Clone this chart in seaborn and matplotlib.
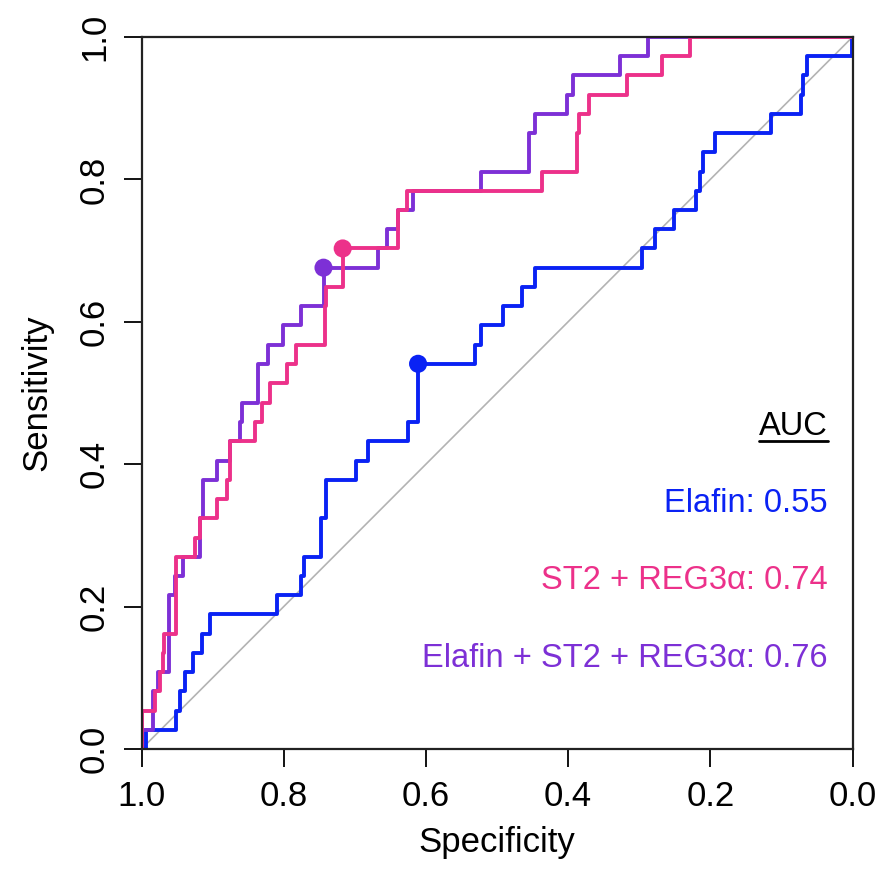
import matplotlib
matplotlib.use("Agg")
import matplotlib.pyplot as plt
import seaborn as sns
import pandas as pd

# ---- data (step vertices: specificity, sensitivity) ----
elafin_spec = [1.0, 0.994, 0.951, 0.946, 0.939, 0.927, 0.915, 0.904, 0.810, 0.775, 0.771,
               0.748, 0.740, 0.699, 0.681, 0.625, 0.611, 0.531, 0.522, 0.491, 0.465, 0.447,
               0.296, 0.278, 0.251, 0.220, 0.215, 0.210, 0.194, 0.114, 0.072, 0.069, 0.064,
               0.001, 0.0]
elafin_sens = [0.0, 0.027, 0.054, 0.081, 0.108, 0.135, 0.162, 0.189, 0.216, 0.243, 0.270,
               0.324, 0.378, 0.405, 0.432, 0.459, 0.541, 0.568, 0.595, 0.622, 0.649, 0.676,
               0.703, 0.730, 0.757, 0.784, 0.811, 0.838, 0.865, 0.892, 0.919, 0.946, 0.973,
               1.0, 1.0]

st2_spec = [1.0, 1.0, 0.981, 0.974, 0.970, 0.968, 0.951, 0.925, 0.918, 0.894, 0.880, 0.876,
            0.840, 0.831, 0.819, 0.796, 0.783, 0.742, 0.740, 0.717, 0.639, 0.627, 0.437,
            0.388, 0.384, 0.370, 0.317, 0.268, 0.229, 0.0]
st2_sens = [0.0, 0.054, 0.081, 0.108, 0.135, 0.162, 0.270, 0.297, 0.324, 0.351, 0.378, 0.432,
            0.459, 0.486, 0.514, 0.541, 0.568, 0.622, 0.649, 0.703, 0.757, 0.784, 0.811,
            0.865, 0.892, 0.919, 0.946, 0.973, 1.0, 1.0]

combo_spec = [1.0, 1.0, 0.984, 0.977, 0.961, 0.953, 0.941, 0.918, 0.913, 0.894, 0.876, 0.862,
              0.859, 0.836, 0.822, 0.801, 0.775, 0.744, 0.668, 0.655, 0.639, 0.618, 0.522,
              0.455, 0.447, 0.402, 0.393, 0.327, 0.287, 0.0]
combo_sens = [0.0, 0.027, 0.081, 0.108, 0.216, 0.243, 0.270, 0.324, 0.378, 0.405, 0.432, 0.459,
              0.486, 0.541, 0.568, 0.595, 0.622, 0.676, 0.703, 0.730, 0.757, 0.784, 0.811,
              0.865, 0.892, 0.919, 0.946, 0.973, 1.0, 1.0]

# best-threshold points
marker_spec = [0.611, 0.717, 0.744]
marker_sens = [0.541, 0.703, 0.676]

series_names = ["Elafin", "ST2 + REG3\u03b1", "Elafin + ST2 + REG3\u03b1"]
auc_values = ["0.55", "0.74", "0.76"]
colors = ["#0A22F4", "#EC318A", "#7D30D6"]

tick_values = [0.0, 0.2, 0.4, 0.6, 0.8, 1.0]
tick_labels = ["0.0", "0.2", "0.4", "0.6", "0.8", "1.0"]

# ---- style ----
sns.set_style("ticks")
plt.rcParams["font.family"] = ["Liberation Sans", "DejaVu Sans"]

fig = plt.figure(figsize=(8.85, 8.8), dpi=100)
W, H = 885, 880
ax = fig.add_axes([141.5 / W, 1 - 749 / H, 711 / W, 712 / H])

# chance diagonal
diag = pd.DataFrame({"spec": [1.0, 0.0], "sens": [0.0, 1.0]})
sns.lineplot(data=diag, x="spec", y="sens", ax=ax, color="#b3b3b3", linewidth=1.2,
             sort=False, estimator=None)

curves = [
    (elafin_spec, elafin_sens, colors[0]),
    (combo_spec, combo_sens, colors[2]),
    (st2_spec, st2_sens, colors[1]),
]
for sp, se, c in curves:
    df = pd.DataFrame({"spec": sp, "sens": se})
    sns.lineplot(data=df, x="spec", y="sens", ax=ax, color=c, linewidth=2.8,
                 sort=False, estimator=None, drawstyle="steps-post")

mk = pd.DataFrame({"spec": marker_spec, "sens": marker_sens, "name": series_names})
sns.scatterplot(data=mk, x="spec", y="sens", hue="name", palette=dict(zip(series_names, colors)),
                s=170, edgecolor="none", ax=ax, legend=False, zorder=5)

ax.set_xlim(1.0, 0.0)
ax.set_ylim(0.0, 1.0)
ax.set_xticks(tick_values)
ax.set_xticklabels(tick_labels)
ax.set_yticks(tick_values)
ax.set_yticklabels(tick_labels, rotation=90, va="center")
ax.tick_params(axis="both", direction="out", length=13, width=1.3, labelsize=25,
               color="black", labelcolor="black", pad=9)
for s in ax.spines.values():
    s.set_visible(True)
    s.set_color("#222222")
    s.set_linewidth(1.6)
ax.set_xlabel("Specificity", fontsize=25, labelpad=10, color="black")
ax.set_ylabel("Sensitivity", fontsize=25, labelpad=18, color="black")

# AUC annotation block
xr = (828 - 141.5) / 711
auc_txt = ax.text(xr, (749 - 435) / 712, "AUC", transform=ax.transAxes, ha="right",
                  va="baseline", fontsize=23.5, color="black")
ys = [(749 - 512) / 712, (749 - 589) / 712, (749 - 667) / 712]
for name, auc, c, y in zip(series_names, auc_values, colors, ys):
    ax.text(xr, y, f"{name}: {auc}", transform=ax.transAxes, ha="right", va="baseline",
            fontsize=23.5, color=c)

fig.canvas.draw()
bb = auc_txt.get_window_extent()
inv = ax.transAxes.inverted()
x0, _ = inv.transform((bb.x0, 0))
x1, _ = inv.transform((bb.x1, 0))
yb = (749 - 441) / 712
ax.plot([x0, x1], [yb, yb], transform=ax.transAxes, color="black", linewidth=2.0,
        clip_on=False)

fig.savefig("out.png", dpi=100)
